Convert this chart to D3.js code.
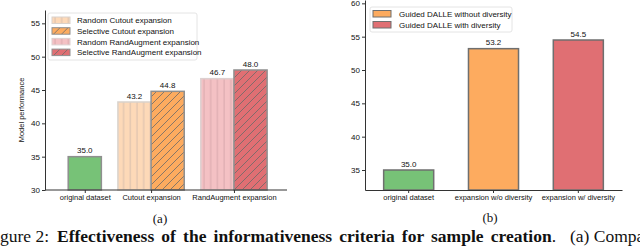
<!DOCTYPE html>
<html><head><meta charset="utf-8">
<script src="https://cdn.jsdelivr.net/npm/d3@7"></script>
<style>
html,body{margin:0;padding:0;background:#fff;}
svg{display:block;}
text{font-family:"Liberation Sans",Arial,sans-serif;}
</style></head>
<body>
<svg id="c" width="640" height="246"></svg>
<script>
// ---- Data: chart (a)
const groupsA = ["original dataset", "Cutout expansion", "RandAugment expansion"];
const seriesA = ["original", "Random Cutout expansion", "Selective Cutout expansion", "Random RandAugment expansion", "Selective RandAugment expansion"];
const groupOfSeriesA = [0, 1, 1, 2, 2];
const valuesA = [35.0, 43.2, 44.8, 46.7, 48.0];
const legendA = ["Random Cutout expansion", "Selective Cutout expansion", "Random RandAugment expansion", "Selective RandAugment expansion"];
const yTicksA = [30, 35, 40, 45, 50, 55];
const yDomainA = [30, 57];

// ---- Data: chart (b)
const categoriesB = ["original dataset", "expansion w/o diversity", "expansion w/ diversity"];
const valuesB = [35.0, 53.2, 54.5];
const legendB = ["Guided DALLE without diversity", "Guided DALLE with diversity"];
const yTicksB = [35, 40, 45, 50, 55, 60];
const yDomainB = [32, 60.5];

const styles = {
  "original": {fill:"#77c277", stroke:"#8f8f8f", hatch:null},
  "Random Cutout expansion": {fill:"#fdd9b8", stroke:"#d9d2cc", hatch:"vOrange"},
  "Selective Cutout expansion": {fill:"#fdab5f", stroke:"#8f8f8f", hatch:"diag"},
  "Random RandAugment expansion": {fill:"#f4c1c4", stroke:"#ddd0d0", hatch:"vPink"},
  "Selective RandAugment expansion": {fill:"#e06f73", stroke:"#8f8f8f", hatch:"diag"},
  "Guided DALLE without diversity": {fill:"#fdab5f", stroke:"#6f6f6f", hatch:null},
  "Guided DALLE with diversity": {fill:"#e06f73", stroke:"#6f6f6f", hatch:null}
};

const svg = d3.select("#c");
const defs = svg.append("defs");
function vPattern(id, bg, line){
  const p = defs.append("pattern").attr("id", id).attr("patternUnits","userSpaceOnUse")
    .attr("width", 6.7).attr("height", 10);
  p.append("rect").attr("width",6.7).attr("height",10).attr("fill",bg);
  p.append("line").attr("x1",3).attr("x2",3).attr("y1",0).attr("y2",10).attr("stroke",line).attr("stroke-width",1);
}
vPattern("vOrange", "#fdd9b8", "#d9bfae");
vPattern("vPink", "#f4c1c4", "#d9a9ad");
function diagPattern(id, bg){
  const p = defs.append("pattern").attr("id", id).attr("patternUnits","userSpaceOnUse")
    .attr("width", 8).attr("height", 8);
  p.append("rect").attr("width",8).attr("height",8).attr("fill",bg);
  p.append("path").attr("d","M0,8 L8,0 M-2,2 L2,-2 M6,10 L10,6").attr("stroke","#6a6a6a").attr("stroke-width",0.8);
}
diagPattern("diagOrange", "#fdab5f");
diagPattern("diagRed", "#e06f73");
function fillOf(name){
  const s = styles[name];
  if (s.hatch === "vOrange") return "url(#vOrange)";
  if (s.hatch === "vPink") return "url(#vPink)";
  if (s.hatch === "diag") return name.includes("Cutout") ? "url(#diagOrange)" : "url(#diagRed)";
  return s.fill;
}

const axisColor = "#333";
function styleAxis(g){
  g.selectAll("path").attr("stroke", axisColor).attr("stroke-width", 1);
  g.selectAll("line").attr("stroke", axisColor);
  g.selectAll("text").attr("fill","#111").style("font-size","8px").style("font-family","'Liberation Sans',Arial,sans-serif");
}

// ================= Chart (a) =================
{
  const left = 45, right = 287, top = 10, bottom = 190;
  const gap = 0.5;
  const counts = groupsA.map((g,i)=>groupOfSeriesA.filter(x=>x===i).length);
  const groupStart = [];
  let acc = 0;
  counts.forEach((c,i)=>{ groupStart.push(acc); acc += c + gap; });
  const total = acc - gap;
  const barPos = seriesA.map((s,i)=>{
    const g = groupOfSeriesA[i];
    const idx = groupOfSeriesA.slice(0,i).filter(x=>x===g).length;
    return groupStart[g] + idx;
  });
  const x = d3.scaleLinear().domain([-0.7, total + 0.6]).range([left, right]);
  const y = d3.scaleLinear().domain(yDomainA).range([bottom, top]);

  const gA = svg.append("g");
  gA.selectAll("rect.bar").data(seriesA).join("rect")
    .attr("class","bar")
    .attr("x",(d,i)=>x(barPos[i]))
    .attr("width",(d,i)=>x(barPos[i]+1)-x(barPos[i]))
    .attr("y",(d,i)=>y(valuesA[i]))
    .attr("height",(d,i)=>y(yDomainA[0])-y(valuesA[i]))
    .attr("fill",d=>fillOf(d))
    .attr("stroke",d=>styles[d].stroke).attr("stroke-width",1.5);

  gA.selectAll("text.val").data(seriesA).join("text")
    .attr("class","val")
    .attr("x",(d,i)=>x(barPos[i]+0.5))
    .attr("y",(d,i)=>y(valuesA[i])-3.5)
    .attr("text-anchor","middle").style("font-size","8px").attr("fill","#111")
    .text((d,i)=>valuesA[i].toFixed(1));

  const yAxis = gA.append("g").attr("transform",`translate(${left},0)`)
    .call(d3.axisLeft(y).tickValues(yTicksA).tickSize(3).tickPadding(2).tickSizeOuter(0));
  styleAxis(yAxis);
  const groupCenter = groupsA.map((g,i)=>groupStart[i] + counts[i]/2);
  const xAxis = gA.append("g").attr("transform",`translate(0,${bottom})`)
    .call(d3.axisBottom(d3.scaleOrdinal().domain(groupsA).range(groupCenter.map(c=>x(c)))).tickSize(3).tickPadding(2));
  xAxis.select("path.domain").remove();
  xAxis.append("line").attr("x1",left).attr("x2",right).attr("stroke",axisColor);
  styleAxis(xAxis);
  xAxis.selectAll("text").style("font-size","7.5px");

  gA.append("text").attr("transform",`translate(24,${(top+bottom)/2+10}) rotate(-90)`)
    .attr("text-anchor","middle").style("font-size","7.5px").attr("fill","#111").text("Model performance");

  const lg = gA.append("g").attr("transform","translate(48,13)");
  lg.append("rect").attr("width",149).attr("height",47).attr("rx",2).attr("fill","#fff").attr("fill-opacity",0.8)
    .attr("stroke","#ddd").attr("stroke-width",0.8);
  legendA.forEach((name,i)=>{
    const row = lg.append("g").attr("transform",`translate(4,${4+i*10.7})`);
    row.append("rect").attr("width",18).attr("height",6.5).attr("fill",fillOf(name))
      .attr("stroke",styles[name].stroke).attr("stroke-width",1);
    row.append("text").attr("x",25).attr("y",6.3).style("font-size","8px").attr("fill","#111").text(name);
  });

  svg.append("text").attr("x",160).attr("y",223).attr("text-anchor","middle")
    .style("font-family","'Liberation Serif','Times New Roman',serif").style("font-size","13px").attr("fill","#111").text("(a)");
}

// ================= Chart (b) =================
{
  const left = 365, right = 622, top = 0, bottom = 190;
  const x = d3.scaleBand().domain(categoriesB).range([left, right]).paddingInner(0.41).paddingOuter(0.22);
  const y = d3.scaleLinear().domain(yDomainB).range([bottom, top]);
  const names = ["original", legendB[0], legendB[1]];
  const gB = svg.append("g");
  gB.selectAll("rect.bar").data(categoriesB).join("rect")
    .attr("class","bar")
    .attr("x",d=>x(d)).attr("width",x.bandwidth())
    .attr("y",(d,i)=>y(valuesB[i]))
    .attr("height",(d,i)=>y(yDomainB[0])-y(valuesB[i]))
    .attr("fill",(d,i)=>styles[names[i]].fill)
    .attr("stroke",(d,i)=> i===0 ? "#6f6f6f" : styles[names[i]].stroke).attr("stroke-width",1.5);
  gB.selectAll("text.val").data(categoriesB).join("text")
    .attr("class","val")
    .attr("x",d=>x(d)+x.bandwidth()/2)
    .attr("y",(d,i)=>y(valuesB[i])-3.5)
    .attr("text-anchor","middle").style("font-size","8px").attr("fill","#111")
    .text((d,i)=>valuesB[i].toFixed(1));

  const yAxis = gB.append("g").attr("transform",`translate(${left},0)`)
    .call(d3.axisLeft(y).tickValues(yTicksB).tickSize(3).tickPadding(2).tickSizeOuter(0));
  styleAxis(yAxis);
  const xAxis = gB.append("g").attr("transform",`translate(0,${bottom})`)
    .call(d3.axisBottom(x).tickSize(3).tickPadding(2).tickSizeOuter(0));
  styleAxis(xAxis);
  xAxis.selectAll("text").style("font-size","7.5px");

  const lg = gB.append("g").attr("transform","translate(370,7)");
  lg.append("rect").attr("width",142).attr("height",25).attr("rx",2).attr("fill","#fff").attr("fill-opacity",0.8)
    .attr("stroke","#ddd").attr("stroke-width",0.8);
  legendB.forEach((name,i)=>{
    const row = lg.append("g").attr("transform",`translate(3,${3.5+i*11})`);
    row.append("rect").attr("width",18).attr("height",6.5).attr("fill",styles[name].fill)
      .attr("stroke",styles[name].stroke).attr("stroke-width",1);
    row.append("text").attr("x",26).attr("y",6.3).style("font-size","8px").attr("fill","#111").text(name);
  });

  svg.append("text").attr("x",490).attr("y",222).attr("text-anchor","middle")
    .style("font-family","'Liberation Serif','Times New Roman',serif").style("font-size","13px").attr("fill","#111").text("(b)");
}

// caption line (cut at both edges in the reference), justified like the paper
{
  const serif = "'Liberation Serif','Times New Roman',serif";
  const fs = 17.5;
  const y0 = 242;
  svg.append("text").attr("x",-14.6).attr("y",y0)
    .style("font-family",serif).style("font-size",fs+"px").attr("fill","#111").text("Figure 2:");
  const mid = svg.append("text").attr("x",57).attr("y",y0)
    .style("font-family",serif).style("font-size",fs+"px").attr("fill","#111");
  mid.append("tspan").style("font-weight","bold").text("Effectiveness of the informativeness criteria for sample creation");
  mid.append("tspan").text(".");
  const L = mid.node().getComputedTextLength();
  const target = 556 - 57;
  const ws = Math.max(0, (target - L) / 7);
  mid.style("word-spacing", ws + "px");
  svg.append("text").attr("x",570).attr("y",y0)
    .style("font-family",serif).style("font-size",fs+"px").attr("fill","#111").text("(a) Comparison");
}
</script>
</body></html>
